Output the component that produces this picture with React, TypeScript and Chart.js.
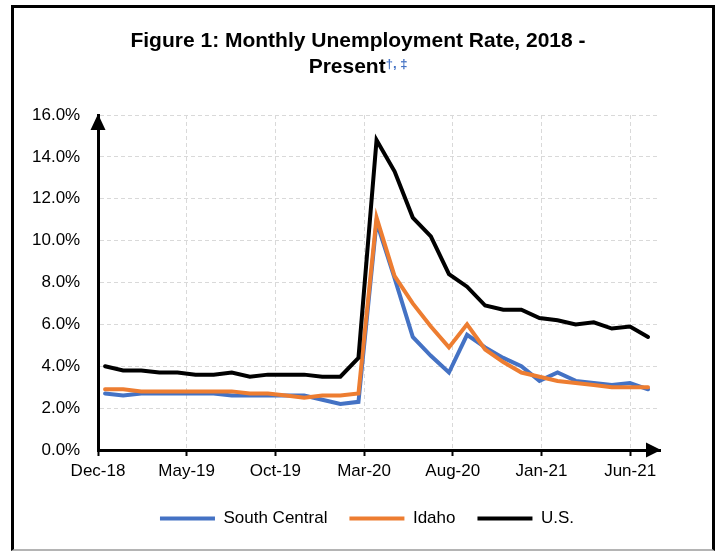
import React, { useEffect, useRef } from "react";
import { Chart, registerables } from "chart.js";

Chart.register(...registerables);

// Monthly observations, Jan-19 through Jul-21
const MONTHS = [
  "Jan-19", "Feb-19", "Mar-19", "Apr-19", "May-19", "Jun-19", "Jul-19", "Aug-19",
  "Sep-19", "Oct-19", "Nov-19", "Dec-19", "Jan-20", "Feb-20", "Mar-20", "Apr-20",
  "May-20", "Jun-20", "Jul-20", "Aug-20", "Sep-20", "Oct-20", "Nov-20", "Dec-20",
  "Jan-21", "Feb-21", "Mar-21", "Apr-21", "May-21", "Jun-21", "Jul-21",
];

const TICK_LABELS = ["Dec-18", "May-19", "Oct-19", "Mar-20", "Aug-20", "Jan-21", "Jun-21"];

const SOUTH_CENTRAL = [
  2.7, 2.6, 2.7, 2.7, 2.7, 2.7, 2.7, 2.6, 2.6, 2.6, 2.6, 2.6, 2.4, 2.2, 2.3, 10.9,
  8.2, 5.4, 4.5, 3.7, 5.5, 4.9, 4.4, 4.0, 3.3, 3.7, 3.3, 3.2, 3.1, 3.2, 2.9,
];

const IDAHO = [
  2.9, 2.9, 2.8, 2.8, 2.8, 2.8, 2.8, 2.8, 2.7, 2.7, 2.6, 2.5, 2.6, 2.6, 2.7, 11.1,
  8.3, 7.0, 5.9, 4.9, 6.0, 4.8, 4.2, 3.7, 3.5, 3.3, 3.2, 3.1, 3.0, 3.0, 3.0,
];

const US = [
  4.0, 3.8, 3.8, 3.7, 3.7, 3.6, 3.6, 3.7, 3.5, 3.6, 3.6, 3.6, 3.5, 3.5, 4.4, 14.8,
  13.3, 11.1, 10.2, 8.4, 7.8, 6.9, 6.7, 6.7, 6.3, 6.2, 6.0, 6.1, 5.8, 5.9, 5.4,
];

// Horizontal axis extent (in month steps) and spacing of the labelled tick marks
const X_MIN = -0.39;
const X_MAX = 30.66;
const TICK_STEP = 4.9;

const FONT = '"Liberation Sans", Arial, Helvetica, sans-serif';

const toPoints = (values: number[]) => MONTHS.map((_, i) => ({ x: i, y: values[i] }));

// Solid arrowheads at the top of the value axis and the right end of the time axis
const axisArrows = {
  id: "axisArrows",
  afterDraw(chart: any) {
    const { ctx, chartArea } = chart;
    const { left, right, top, bottom } = chartArea;
    ctx.save();
    ctx.fillStyle = "#000";
    ctx.beginPath();
    ctx.moveTo(left, top - 1);
    ctx.lineTo(left - 7.5, top + 15);
    ctx.lineTo(left + 7.5, top + 15);
    ctx.closePath();
    ctx.fill();
    ctx.beginPath();
    ctx.moveTo(right + 1, bottom);
    ctx.lineTo(right - 14, bottom - 7.5);
    ctx.lineTo(right - 14, bottom + 7.5);
    ctx.closePath();
    ctx.fill();
    ctx.restore();
  },
};

export default function App() {
  const canvasRef = useRef<HTMLCanvasElement | null>(null);

  useEffect(() => {
    if (!canvasRef.current) return;
    const chart = new Chart(canvasRef.current, {
      type: "line",
      data: {
        datasets: [
          {
            label: "South Central",
            data: toPoints(SOUTH_CENTRAL),
            borderColor: "#4472C4",
            backgroundColor: "#4472C4",
            borderWidth: 4,
            pointRadius: 0,
            borderCapStyle: "round",
            order: 2,
          },
          {
            label: "Idaho",
            data: toPoints(IDAHO),
            borderColor: "#ED7D31",
            backgroundColor: "#ED7D31",
            borderWidth: 4,
            pointRadius: 0,
            borderCapStyle: "round",
            order: 1,
          },
          {
            label: "U.S.",
            data: toPoints(US),
            borderColor: "#000000",
            backgroundColor: "#000000",
            borderWidth: 4,
            pointRadius: 0,
            borderCapStyle: "round",
            order: 0,
          },
        ],
      },
      options: {
        responsive: false,
        animation: false,
        events: [],
        layout: { padding: { top: 115, left: 74, right: 60, bottom: 15 } },
        scales: {
          x: {
            type: "linear",
            min: X_MIN,
            max: X_MAX,
            afterBuildTicks: (scale: any) => {
              scale.ticks = TICK_LABELS.map((_, k) => ({ value: X_MIN + k * TICK_STEP }));
            },
            afterFit: (scale: any) => {
              scale.height = 38;
            },
            ticks: {
              autoSkip: false,
              maxRotation: 0,
              padding: 5,
              color: "#000",
              font: { family: FONT, size: 17 },
              callback: (_v: any, index: number) => TICK_LABELS[index],
            },
            grid: {
              color: "#d9d9d9",
              lineWidth: 1,
              drawTicks: true,
              tickLength: 6,
              tickWidth: 2,
              tickColor: "#000",
              tickBorderDash: [],
            },
            border: { display: true, color: "#000", width: 3, dash: [4, 3] },
          },
          y: {
            min: 0,
            max: 16,
            afterFit: (scale: any) => {
              scale.width = 24;
            },
            ticks: {
              stepSize: 2,
              // labels sit to the left of the axis, right-aligned
              mirror: true,
              crossAlign: "far",
              padding: -66,
              color: "#000",
              font: { family: FONT, size: 17 },
              callback: (v: any) => Number(v).toFixed(1) + "%",
            },
            grid: { color: "#d9d9d9", lineWidth: 1, drawTicks: false },
            border: { display: true, color: "#000", width: 3, dash: [4, 3] },
          },
        },
        plugins: {
          title: { display: false },
          tooltip: { enabled: false },
          legend: {
            position: "bottom",
            labels: {
              boxWidth: 55,
              boxHeight: 4,
              padding: 22,
              color: "#000",
              font: { family: FONT, size: 17 },
              useBorderRadius: true,
              borderRadius: 2,
              generateLabels: (c: any) =>
                c.data.datasets.map((ds: any, i: number) => ({
                  text: ds.label,
                  fillStyle: ds.borderColor,
                  strokeStyle: ds.borderColor,
                  lineWidth: 0,
                  hidden: false,
                  datasetIndex: i,
                  fontColor: "#000",
                })),
            },
          },
        },
      },
      plugins: [axisArrows],
    } as any);
    return () => chart.destroy();
  }, []);

  return (
    <div style={{ position: "absolute", left: 0, top: 0, width: 720, height: 552, background: "#fff", overflow: "hidden" }}>
      <div
        style={{
          position: "absolute",
          left: 11,
          top: 5,
          width: 704,
          height: 546,
          boxSizing: "border-box",
          borderTop: "3px solid #000",
          borderLeft: "3px solid #000",
          borderRight: "3px solid #000",
          borderBottom: "2px solid #b4b4b4",
        }}
      />
      <canvas ref={canvasRef} width={720} height={552} style={{ position: "absolute", left: 0, top: 0 }} />
      <div
        style={{
          position: "absolute",
          left: 0,
          top: 27,
          width: 716,
          textAlign: "center",
          fontFamily: FONT,
          fontWeight: "bold",
          fontSize: 21,
          lineHeight: "26px",
          color: "#000",
        }}
      >
        Figure 1: Monthly Unemployment Rate, 2018 -
        <br />
        Present
        <span style={{ position: "relative", top: -5, fontSize: 13, color: "#4472C4", lineHeight: 0 }}>†, ‡</span>
      </div>
    </div>
  );
}
